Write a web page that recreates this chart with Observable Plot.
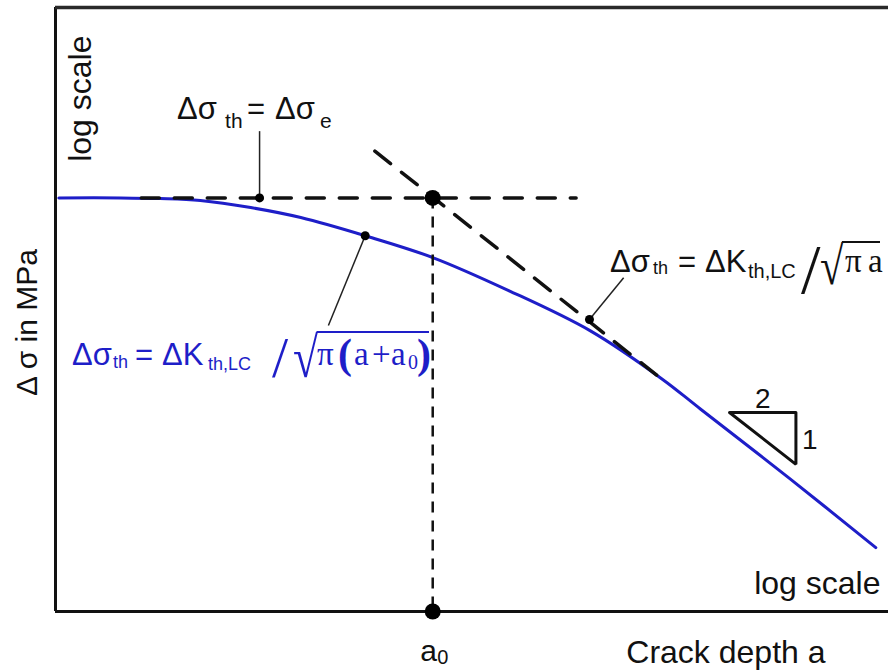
<!DOCTYPE html>
<html>
<head>
<meta charset="utf-8">
<script src="https://cdn.jsdelivr.net/npm/d3@7"></script>
<script src="https://cdn.jsdelivr.net/npm/@observablehq/plot@0.6"></script>
<style>
  html, body { margin: 0; padding: 0; background: #fff; }
  #chart svg { display: block; }
</style>
</head>
<body>
<div id="chart"></div>
<script>
// Kitagawa–Takahashi diagram: crack depth as a/a0, stress range as Δσ/Δσe, both on log axes

// Threshold curve Δσth = ΔKth,LC / √(π(a + a0))
const crackDepth  = [0.033, 0.058, 0.083, 0.12, 0.19, 0.30, 0.54, 1.0, 2.0, 4.2, 8.1, 11.5, 26, 57];
const stressRange = [1.0, 1.0, 0.996, 0.985, 0.946, 0.893, 0.804, 0.709, 0.586, 0.465, 0.352, 0.296, 0.198, 0.133];

// Endurance limit Δσe and the extent of its dashed line
const enduranceStress = 1;
const enduranceDepth  = [0.07, 3.7];

// Long-crack asymptote Δσth = ΔKth,LC / √(πa), slope −1/2
const lefmDepth  = [0.59, 8.1];
const lefmStress = [1.31, 0.351];

// Intrinsic crack length
const a0 = 1;

// Annotated points and the far ends of their leader lines
const noteDepth    = [0.206, 0.54, 4.18];
const noteStress   = [1, 0.804, 0.496];
const leaderDepth  = [0.206, 0.386, 5.71];
const leaderStress = [1.47, 0.479, 0.631];

// Slope triangle 2 : 1
const slopeDepth  = [15, 27.5];
const slopeStress = [0.29, 0.215];
const slopeLabels = ["2", "1"];

// Axis labels
const yLabel = "Δ σ in MPa";
const xLabel = "Crack depth a";
const scaleLabel = "log scale";

const xDomain = [0.032, 64];
const yDomain = [0.092, 3];

const SANS  = "Arial, 'Liberation Sans', Helvetica, sans-serif";
const SERIF = "'Times New Roman', 'Liberation Serif', Times, serif";
const BLUE  = "#1e1ec8";
const INK   = "#111";

const curve = crackDepth.map((a, i) => ({a, s: stressRange[i]}));
const endurance = enduranceDepth.map((a) => ({a, s: enduranceStress}));
const lefm = lefmDepth.map((a, i) => ({a, s: lefmStress[i]}));
const notes = noteDepth.map((a, i) => ({a, s: noteStress[i], a2: leaderDepth[i], s2: leaderStress[i]}));
// closed triangle; repeating the first edge gives a mitred corner at the start
const triangle = [
  {a: slopeDepth[0], s: slopeStress[0]},
  {a: slopeDepth[1], s: slopeStress[0]},
  {a: slopeDepth[1], s: slopeStress[1]},
  {a: slopeDepth[0], s: slopeStress[0]},
  {a: slopeDepth[1], s: slopeStress[0]}
];
const bigDots = [{a: a0, s: enduranceStress}, {a: a0, s: yDomain[0]}];

const chart = Plot.plot({
  width: 888,
  height: 670,
  marginLeft: 55,
  marginRight: 0,
  marginTop: 7,
  marginBottom: 59,
  style: {fontFamily: SANS, background: "#fff", color: INK},
  x: {type: "log", domain: xDomain, axis: null},
  y: {type: "log", domain: yDomain, axis: null},
  marks: [
    Plot.line(curve, {x: "a", y: "s", stroke: BLUE, strokeWidth: 3, curve: "catmull-rom"}),
    Plot.ruleX([a0], {y1: enduranceStress, y2: yDomain[0], stroke: INK, strokeWidth: 2.5, strokeDasharray: "11,8"}),
    Plot.line(endurance, {x: "a", y: "s", stroke: INK, strokeWidth: 3.5, strokeDasharray: "18,15"}),
    Plot.line(lefm, {x: "a", y: "s", stroke: INK, strokeWidth: 3.5, strokeDasharray: "20,14"}),
    Plot.link(notes, {x1: "a", y1: "s", x2: "a2", y2: "s2", stroke: "#222", strokeWidth: 1.5}),
    Plot.dot(notes, {x: "a", y: "s", r: 4.5, fill: "#000", stroke: null}),
    Plot.line(triangle, {x: "a", y: "s", stroke: INK, strokeWidth: 3, strokeLinejoin: "miter"}),
    // frame: left, top and bottom edges
    Plot.ruleX([xDomain[0]], {stroke: INK, strokeWidth: 3}),
    Plot.ruleY([yDomain[0]], {stroke: INK, strokeWidth: 3}),
    Plot.ruleY([yDomain[1]], {stroke: "#2a2a2a", strokeWidth: 3.5}),
    Plot.dot(bigDots, {x: "a", y: "s", r: 8, fill: "#000", stroke: null}),
    // slope triangle labels
    Plot.text([slopeLabels[0]], {x: Math.sqrt(slopeDepth[0] * slopeDepth[1]), y: slopeStress[0], text: (d) => d,
      lineAnchor: "bottom", dy: -4, fontSize: 28, fill: INK}),
    Plot.text([slopeLabels[1]], {x: slopeDepth[1], y: Math.sqrt(slopeStress[0] * slopeStress[1]), text: (d) => d,
      textAnchor: "start", dx: 6, dy: 2, fontSize: 28, fill: INK}),
    // axis labels
    Plot.text([scaleLabel], {frameAnchor: "top-left", text: (d) => d, rotate: -90, textAnchor: "end",
      lineAnchor: "bottom", dx: 35, dy: 28, fontSize: 32, fill: INK}),
    Plot.text([yLabel], {frameAnchor: "left", text: (d) => d, rotate: -90, textAnchor: "middle",
      lineAnchor: "bottom", dx: -19, dy: 13, fontSize: 30, fill: INK}),
    Plot.text([scaleLabel], {frameAnchor: "bottom-right", text: (d) => d, textAnchor: "end",
      lineAnchor: "bottom", dx: -8, dy: -18, fontSize: 32, fill: INK}),
    Plot.text([xLabel], {frameAnchor: "bottom-right", text: (d) => d, textAnchor: "end",
      lineAnchor: "bottom", dx: -63, dy: 51, fontSize: 32, fill: INK})
  ]
});

document.getElementById("chart").append(chart);

// ---- typeset formulas (mixed fonts, subscripts, radicals) on top of the plot ----
const svg = d3.select(chart);
const X = chart.scale("x").apply;
const Y = chart.scale("y").apply;
const ctx = document.createElement("canvas").getContext("2d");

// Runs become tspans of one <text>: {t, at (offset from start), size, shift (below baseline), serif, bold}.
// A radical run is drawn on its own, narrowed and stretched to span `above`..`below` the baseline;
// the overline then runs from its top-right corner to bar.to.
function formula(x0, y0, runs, color, bar) {
  const g = svg.append("g").attr("fill", color).attr("text-anchor", "start");
  const text = g.append("text");
  let barStart = null;
  for (const r of runs) {
    const family = r.serif ? SERIF : SANS;
    if (r.radical) {
      ctx.font = `normal 100px ${family}`;
      const m = ctx.measureText(r.t);
      const h = m.actualBoundingBoxAscent + m.actualBoundingBoxDescent;
      const fitted = 100 * (r.above + r.below) / h;
      const size = fitted * 0.8;
      const shift = r.below - m.actualBoundingBoxDescent * fitted / 100;
      g.append("text")
        .attr("transform", `translate(${x0 + r.at},${y0 + shift}) scale(1,1.25)`)
        .attr("font-family", family)
        .attr("font-size", size)
        .text(r.t);
      barStart = x0 + r.at + m.actualBoundingBoxRight * size / 100 - 1.5;
      continue;
    }
    text.append("tspan")
      .attr("x", x0 + r.at)
      .attr("y", y0 + (r.shift || 0))
      .attr("font-family", family)
      .attr("font-size", r.size)
      .attr("font-weight", r.bold ? "bold" : "normal")
      .text(r.t);
  }
  if (bar) {
    g.append("line")
      .attr("x1", barStart ?? x0).attr("x2", x0 + bar.to)
      .attr("y1", y0 - bar.above).attr("y2", y0 - bar.above)
      .attr("stroke", color).attr("stroke-width", 2);
  }
}

// Δσth = Δσe, above the endurance-limit marker
formula(X(noteDepth[0]) - 82, Y(leaderStress[0]) - 12, [
  {t: "Δσ", at: 0, size: 31},
  {t: "th", at: 48, size: 21, shift: 9},
  {t: "=", at: 70, size: 31},
  {t: "Δσ", at: 98, size: 31},
  {t: "e", at: 143, size: 21, shift: 9}
], INK);

// Δσth = ΔKth,LC / √(π(a + a0)), the threshold curve
formula(72, 365, [
  {t: "Δσ", at: 0, size: 31},
  {t: "th", at: 41, size: 18, shift: 3},
  {t: "=", at: 63, size: 31},
  {t: "ΔK", at: 90, size: 31},
  {t: "th,LC", at: 136, size: 18, shift: 5},
  {t: "/", at: 200, size: 58, serif: true, shift: 12},
  {t: "√", at: 221, serif: true, radical: true, above: 33, below: 13},
  {t: "π", at: 245, size: 33, serif: true},
  {t: "(", at: 266, size: 42, serif: true, bold: true, shift: 3},
  {t: "a", at: 282, size: 33, serif: true},
  {t: "+", at: 300, size: 33, serif: true},
  {t: "a", at: 319, size: 33, serif: true},
  {t: "0", at: 336, size: 20, serif: true, shift: 4},
  {t: ")", at: 345, size: 42, serif: true, bold: true, shift: 3}
], BLUE, {to: 357, above: 33});

// Δσth = ΔKth,LC / √(πa), the long-crack asymptote
formula(610, 272, [
  {t: "Δσ", at: 0, size: 31},
  {t: "th", at: 43, size: 18, shift: 2},
  {t: "=", at: 68, size: 31},
  {t: "ΔK", at: 95, size: 31},
  {t: "th,LC", at: 138, size: 20, shift: 6},
  {t: "/", at: 191, size: 70, serif: true, shift: 21},
  {t: "√", at: 210, serif: true, radical: true, above: 30, below: 13},
  {t: "π", at: 235, size: 33, serif: true},
  {t: "a", at: 258, size: 33, serif: true}
], INK, {to: 270, above: 30});

// a0 under the intrinsic crack length marker
formula(X(a0) - 12, Y(yDomain[0]) + 50, [
  {t: "a", at: 0, size: 30},
  {t: "0", at: 17, size: 20, shift: 3}
], INK);
</script>
</body>
</html>
